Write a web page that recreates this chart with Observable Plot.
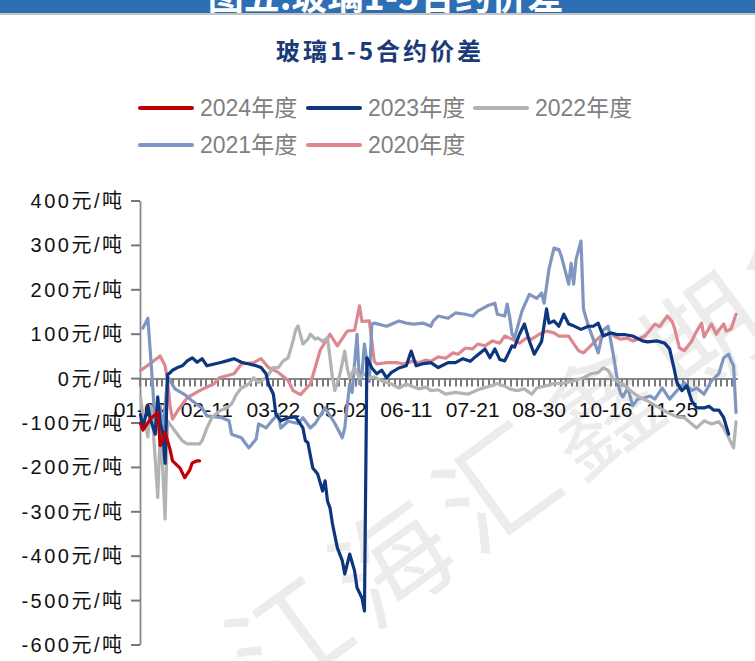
<!DOCTYPE html>
<html>
<head>
<meta charset="utf-8">
<script src="https://cdn.jsdelivr.net/npm/d3@7"></script>
<script src="https://cdn.jsdelivr.net/npm/@observablehq/plot@0.6"></script>
<style>
  html, body { margin: 0; padding: 0; background: #fff; }
  #page { position: relative; width: 755px; height: 661px; overflow: hidden; font-family: "Liberation Sans", "Noto Sans CJK SC", sans-serif; }
  #band { position: absolute; left: 0; top: 0; width: 755px; height: 13px; background: #2e6fb4; border-bottom: 2px solid #c4c4c4; overflow: hidden; }
  #band span { position: absolute; left: 0; width: 755px; top: -24px; text-align: center; color: #fff; font: bold 36px/36px "Noto Sans CJK SC", sans-serif; padding-left: 8px; }
  #title { position: absolute; left: 0; width: 760px; top: 34px; text-align: center; color: #1b3a78; font: bold 24px/32px "Noto Sans CJK SC", sans-serif; letter-spacing: 3px; }
  .lg { position: absolute; height: 4px; width: 56px; border-radius: 2px; }
  .lt { position: absolute; color: #808080; font: 23px/28px "Liberation Sans", "Noto Sans CJK SC", sans-serif; white-space: nowrap; }
  #wm { position: absolute; left: 548px; top: 440px; transform: translate(-50%, -50%) rotate(-36deg); font: 400 116px/1 "Noto Sans CJK SC", sans-serif; letter-spacing: 12px; color: rgba(0,0,0,0.075); white-space: nowrap; z-index: 0; }
  #chart { position: absolute; left: 0; top: 180px; z-index: 1; }
</style>
</head>
<body>
<div id="page">
  <div id="band"><span>图五:玻璃1-5合约价差</span></div>
  <div id="title">玻璃1-5合约价差</div>
  <div id="legend"></div>
  <div id="wm">江海汇鑫期货</div>
  <div id="chart"></div>
</div>
<script>
// ---- data (x = trading-day index from 01-02, y = 元/吨) ----
const seriesNames = ["2024年度", "2023年度", "2022年度", "2021年度", "2020年度"];
const seriesColors = ["#c00000", "#0e367f", "#b3b3b3", "#7f97c0", "#de8791"];

const s2024 = [[0,-100],[1,-115],[4,-90],[7,-75],[8,-150],[10,-120],[12,-158],[13,-184],[16,-200],[18,-222],[20,-205],[21,-189],[23,-184],[24,-184]];

const s2023 = [[0,-80],[1,-110],[3,-60],[4,-90],[6,-124],[7,-40],[8,-100],[9,-120],[10,-190],[11,10],[12,14],[13,20],[15,26],[17,30],[19,41],[21,48],[23,38],[25,46],[27,30],[30,34],[33,38],[35,41],[38,46],[41,38],[44,34],[47,30],[49,26],[51,12],[52,-11],[54,-34],[55,-79],[57,-94],[60,-87],[63,-85],[66,-110],[67,-139],[68,-143],[70,-200],[72,-214],[74,-252],[75,-229],[76,-275],[77,-290],[78,-326],[80,-380],[82,-409],[83,-439],[85,-394],[87,-432],[88,-470],[90,-493],[91,-522],[92,48],[94,25],[96,12],[98,20],[100,3],[102,15],[105,25],[108,30],[110,63],[112,30],[115,35],[118,37],[121,26],[125,37],[128,37],[131,46],[134,40],[136,50],[140,68],[142,48],[144,68],[146,44],[148,41],[151,75],[152,72],[154,101],[156,124],[158,86],[160,56],[163,85],[165,158],[166,126],[168,131],[170,119],[172,146],[174,124],[176,120],[179,112],[182,119],[184,119],[186,126],[188,97],[191,104],[194,100],[197,100],[200,97],[204,86],[206,84],[210,86],[213,81],[215,68],[217,19],[218,-8],[220,-26],[222,-15],[224,-49],[226,-65],[229,-65],[231,-61],[233,-70],[235,-70],[237,-87],[239,-124]];

const s2022 = [[0,-40],[1,-80],[3,-130],[4,-60],[5,-100],[7,-267],[8,-120],[9,-200],[10,-315],[11,-94],[14,-117],[17,-139],[19,-146],[24,-146],[25,-139],[27,-110],[29,-87],[32,-72],[35,-65],[37,-56],[39,-34],[41,-20],[44,-11],[46,3],[48,-8],[51,3],[54,26],[56,26],[58,41],[60,48],[62,86],[63,110],[64,120],[66,79],[68,90],[69,101],[71,90],[72,93],[74,85],[76,93],[77,48],[78,3],[79,-26],[81,10],[83,63],[84,25],[85,3],[87,25],[89,3],[91,12],[93,3],[95,5],[98,-4],[102,-11],[105,-20],[108,-11],[111,-18],[113,-22],[116,-18],[118,-26],[121,-24],[124,-34],[128,-30],[133,-34],[138,-22],[142,-16],[145,-10],[148,-16],[150,-22],[153,-26],[156,-22],[159,-34],[161,-20],[164,-16],[168,-10],[172,-9],[176,-4],[180,3],[183,12],[186,15],[188,25],[190,20],[192,0],[196,-11],[200,-30],[203,-42],[206,-49],[210,-62],[214,-75],[218,-85],[221,-87],[224,-101],[226,-110],[229,-94],[232,-101],[235,-96],[237,-110],[239,-132],[241,-155],[242,-96]];

const s2021 = [[1,115],[3,137],[4,60],[5,-20],[6,-110],[8,-60],[9,-130],[11,5],[12,-4],[14,-22],[18,-35],[21,-49],[25,-65],[27,-83],[33,-87],[36,-94],[37,-124],[41,-132],[44,-155],[47,-135],[48,-101],[51,-110],[54,-90],[56,-79],[57,-110],[60,-95],[64,-100],[66,-87],[69,-110],[71,-100],[75,-65],[79,-100],[82,-132],[83,-110],[85,-11],[86,-30],[88,101],[89,-11],[90,12],[91,79],[93,-5],[94,124],[95,126],[100,119],[105,131],[108,126],[111,124],[115,126],[118,119],[119,131],[121,142],[125,137],[128,149],[132,146],[135,142],[137,153],[141,165],[144,171],[145,146],[148,142],[149,169],[150,140],[151,101],[152,93],[155,153],[158,191],[161,182],[163,194],[164,171],[166,248],[168,295],[170,292],[171,277],[174,214],[175,261],[176,214],[177,270],[179,311],[180,158],[182,119],[184,90],[186,59],[188,110],[190,119],[192,59],[194,-9],[195,-31],[196,-40],[198,-20],[200,-60],[202,-45],[205,-42],[207,-38],[209,-45],[212,-20],[215,-45],[218,-26],[221,-8],[224,-26],[226,-20],[229,-34],[232,-4],[235,12],[237,48],[239,56],[240,41],[241,30],[242,-75]];

const s2020 = [[0,19],[4,35],[8,52],[10,30],[11,-4],[12,-60],[13,-90],[15,-72],[19,-42],[24,-26],[30,-10],[32,3],[38,12],[41,34],[46,37],[49,46],[52,26],[56,15],[60,-3],[62,-26],[65,-35],[69,-11],[71,26],[73,65],[77,101],[80,75],[84,108],[87,110],[89,165],[90,130],[93,131],[95,40],[96,34],[100,37],[104,37],[107,34],[111,41],[113,37],[116,43],[118,40],[121,50],[124,47],[127,59],[129,56],[132,70],[135,68],[137,79],[140,75],[143,86],[146,81],[148,97],[151,90],[154,81],[157,93],[159,90],[162,101],[165,108],[168,104],[170,97],[174,97],[176,80],[178,64],[180,59],[182,70],[184,81],[187,97],[189,100],[191,104],[193,95],[195,90],[198,92],[200,86],[203,92],[205,97],[207,110],[209,124],[211,118],[214,142],[216,130],[217,115],[219,70],[221,64],[224,86],[226,108],[228,126],[229,95],[232,124],[234,101],[235,110],[237,124],[238,108],[240,113],[241,130],[242,146]];

const xTickDays = [0, 27, 54, 81, 108, 135, 162, 189, 216];
const xTickLabels = ["01-02", "02-11", "03-22", "05-02", "06-11", "07-21", "08-30", "10-16", "11-25"];
const yTicks = [-600, -500, -400, -300, -200, -100, 0, 100, 200, 300, 400];

// ---- legend ----
const legendPos = [[138, 108], [306, 108], [473, 108], [138, 145], [306, 145]];
const legend = document.getElementById("legend");
seriesNames.forEach((name, i) => {
  const [lx, ly] = legendPos[i];
  const sw = document.createElement("div");
  sw.className = "lg";
  sw.style.left = lx + "px"; sw.style.top = (ly - 2) + "px"; sw.style.background = seriesColors[i];
  legend.appendChild(sw);
  const t = document.createElement("div");
  t.className = "lt";
  t.style.left = (lx + 62) + "px"; t.style.top = (ly - 14) + "px";
  t.textContent = name;
  legend.appendChild(t);
});

// ---- chart ----
const allSeries = [s2024, s2023, s2022, s2021, s2020];
const tables = allSeries.map(s => s.map(([day, value]) => ({day, value})));
const minorTicks = d3.range(0, 243, 27 / 12);

const lineMarks = [4, 3, 2, 1, 0].map(k =>
  Plot.line(tables[k], {x: "day", y: "value", stroke: seriesColors[k], strokeWidth: 3.2, strokeLinejoin: "round", strokeLinecap: "round"})
);

const chart = Plot.plot({
  width: 755,
  height: 481,
  marginTop: 21,
  marginBottom: 16,
  marginLeft: 140,
  marginRight: 17,
  x: {domain: [0, 243], axis: null},
  y: {domain: [-600, 400]},
  style: {fontFamily: "'Liberation Sans', 'Noto Sans CJK SC', sans-serif", fontSize: "20px", background: "transparent", overflow: "visible"},
  marks: [
    Plot.axisY(yTicks, {tickSize: 0, tickPadding: 16, tickFormat: d => `${d}元/吨`, color: "#111", fontSize: 20, label: null}),
    Plot.ruleX([0], {y1: -600, y2: 400, stroke: "#8a8a8a", strokeWidth: 1.8}),
    Plot.text(xTickLabels, {x: (d, i) => xTickDays[i], y: 0, dy: 31, text: d => d, fontSize: 21, fill: "#111"}),
    Plot.ruleY([0], {stroke: "#8a8a8a", strokeWidth: 2}),
    ...lineMarks
  ]
});

// tick marks (y-axis ticks pointing left, x minor ticks hanging below the 0 line), placed with Plot's own scales
const sx = chart.scale("x"), sy = chart.scale("y");
const firstLine = chart.querySelector('g[aria-label="line"]');
const tg = d3.create("svg:g").attr("aria-label", "ticks");
const x0 = sx.apply(0), y0 = sy.apply(0);
yTicks.forEach(v => {
  const y = sy.apply(v);
  tg.append("line").attr("x1", x0 - 9).attr("x2", x0).attr("y1", y).attr("y2", y)
    .attr("stroke", "#777").attr("stroke-width", 2);
});
minorTicks.forEach(d => {
  const x = Math.round(sx.apply(d));
  tg.append("line").attr("x1", x).attr("x2", x).attr("y1", y0).attr("y2", y0 + 8)
    .attr("stroke", "#7a7a7a").attr("stroke-width", 2);
});
chart.insertBefore(tg.node(), firstLine);

// spaced-out y tick labels like the reference
chart.querySelectorAll("text").forEach(t => {
  if (t.textContent.includes("元/吨")) t.setAttribute("letter-spacing", "2.5");
});
document.getElementById("chart").appendChild(chart);
</script>
</body>
</html>
